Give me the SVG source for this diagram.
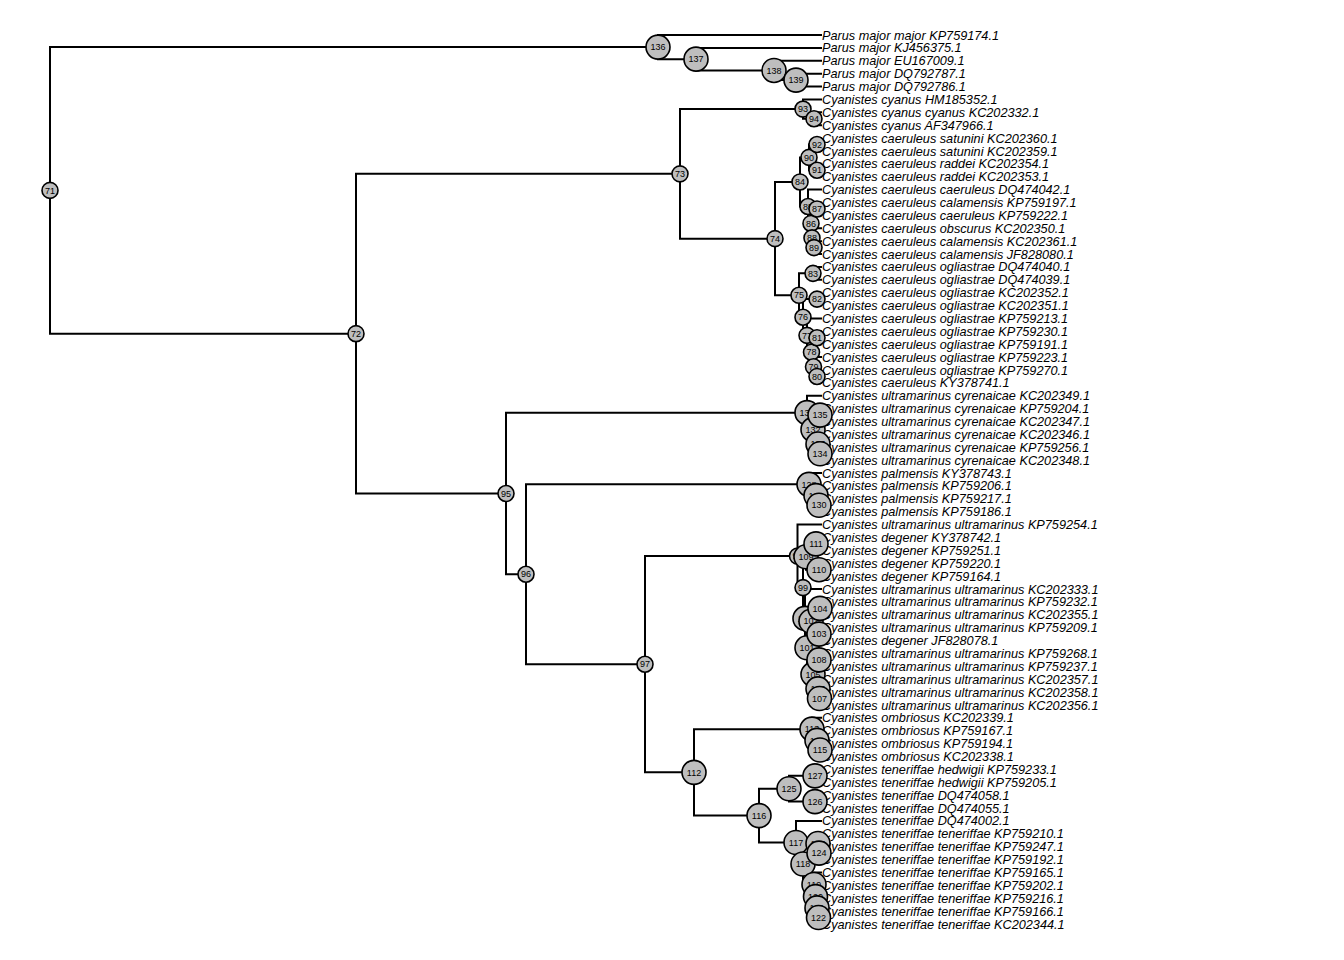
<svg xmlns="http://www.w3.org/2000/svg" width="1344" height="960" viewBox="0 0 1344 960">
<style>
.e{fill:none;stroke:#000;stroke-width:2;stroke-linecap:square;stroke-linejoin:miter}
.t{font-family:"Liberation Sans",Arial,sans-serif;font-size:12.7px;font-style:italic;fill:#000}
.c{fill:#bebebe;stroke:#000;stroke-width:1.6}
.l{font-family:"Liberation Sans",Arial,sans-serif;font-size:9px;fill:#000;text-anchor:middle}
</style>
<rect width="1344" height="960" fill="#fff"/>
<g id="connectors">
<path class="e" d="M658,47.08 H50 V333.67 H356"/>
<path class="e" d="M821,35 H658 V59.16 H696"/>
<path class="e" d="M821,47.88 H696 V70.43 H774"/>
<path class="e" d="M821,60.77 H774 V80.10 H796"/>
<path class="e" d="M821,73.65 H796 V86.54 H821"/>
<path class="e" d="M680,173.86 H356 V493.48 H506"/>
<path class="e" d="M803,109.08 H680 V238.63 H775"/>
<path class="e" d="M821,99.42 H803 V118.74 H814"/>
<path class="e" d="M821,112.30 H814 V125.19 H821"/>
<path class="e" d="M800,181.96 H775 V295.30 H799"/>
<path class="e" d="M809,157.40 H800 V206.52 H808"/>
<path class="e" d="M817,144.51 H809 V170.28 H817"/>
<path class="e" d="M821,138.07 H817 V150.96 H821"/>
<path class="e" d="M821,163.84 H817 V176.72 H821"/>
<path class="e" d="M821,189.61 H808 V223.43 H811"/>
<path class="e" d="M817,208.93 H811 V237.92 H812"/>
<path class="e" d="M821,202.49 H817 V215.38 H821"/>
<path class="e" d="M821,228.26 H812 V247.58 H814"/>
<path class="e" d="M821,241.14 H814 V254.03 H821"/>
<path class="e" d="M813,273.35 H799 V317.24 H803"/>
<path class="e" d="M821,266.91 H813 V279.80 H821"/>
<path class="e" d="M817,299.12 H803 V335.36 H807"/>
<path class="e" d="M821,292.68 H817 V305.57 H821"/>
<path class="e" d="M821,318.45 H807 V352.27 H811.5"/>
<path class="e" d="M817,337.78 H811.5 V366.77 H813.5"/>
<path class="e" d="M821,331.33 H817 V344.22 H821"/>
<path class="e" d="M821,357.10 H813.5 V376.43 H817"/>
<path class="e" d="M821,369.99 H817 V382.87 H821"/>
<path class="e" d="M807,412.67 H506 V574.28 H526"/>
<path class="e" d="M821,395.75 H807 V429.58 H813"/>
<path class="e" d="M820,415.08 H813 V444.07 H818"/>
<path class="e" d="M821,408.64 H820 V421.52 H821"/>
<path class="e" d="M821,434.41 H818 V453.73 H820"/>
<path class="e" d="M821,447.29 H820 V460.17 H821"/>
<path class="e" d="M809,484.33 H526 V664.23 H645"/>
<path class="e" d="M821,473.06 H809 V495.61 H816"/>
<path class="e" d="M821,485.94 H816 V505.27 H819"/>
<path class="e" d="M821,498.83 H819 V511.71 H821"/>
<path class="e" d="M797.5,556.10 H645 V772.36 H694"/>
<path class="e" d="M821,524.59 H797.5 V587.60 H803"/>
<path class="e" d="M806,556.80 H803 V618.40 H805"/>
<path class="e" d="M816,543.92 H806 V569.69 H819"/>
<path class="e" d="M821,537.48 H816 V550.36 H821"/>
<path class="e" d="M821,563.25 H819 V576.13 H821"/>
<path class="e" d="M821,589.01 H805 V647.80 H807"/>
<path class="e" d="M811,621.23 H807 V674.37 H813"/>
<path class="e" d="M820,608.34 H811 V634.11 H819"/>
<path class="e" d="M821,601.90 H820 V614.78 H821"/>
<path class="e" d="M821,627.67 H819 V640.55 H821"/>
<path class="e" d="M819,659.88 H813 V688.87 H818"/>
<path class="e" d="M821,653.43 H819 V666.32 H821"/>
<path class="e" d="M821,679.20 H818 V698.53 H819.5"/>
<path class="e" d="M821,692.09 H819.5 V704.97 H821"/>
<path class="e" d="M812,729.13 H694 V815.59 H759"/>
<path class="e" d="M821,717.86 H812 V740.40 H817"/>
<path class="e" d="M821,730.74 H817 V750.07 H820"/>
<path class="e" d="M821,743.62 H820 V756.51 H821"/>
<path class="e" d="M789,788.72 H759 V842.47 H796"/>
<path class="e" d="M815,775.83 H789 V801.60 H815"/>
<path class="e" d="M821,769.39 H815 V782.28 H821"/>
<path class="e" d="M821,795.16 H815 V808.04 H821"/>
<path class="e" d="M821,820.93 H796 V864.01 H803"/>
<path class="e" d="M818,843.47 H803 V884.54 H814"/>
<path class="e" d="M821,833.81 H818 V853.14 H819"/>
<path class="e" d="M821,846.70 H819 V859.58 H821"/>
<path class="e" d="M821,872.46 H814 V896.62 H815.5"/>
<path class="e" d="M821,885.35 H815.5 V907.90 H817"/>
<path class="e" d="M821,898.23 H817 V917.56 H818.5"/>
<path class="e" d="M821,911.12 H818.5 V924.00 H821"/>
</g>
<g id="tips" class="t">
<text id="tip1" x="822" y="39.5">Parus major major KP759174.1</text>
<text id="tip2" x="822" y="52.4">Parus major KJ456375.1</text>
<text id="tip3" x="822" y="65.3">Parus major EU167009.1</text>
<text id="tip4" x="822" y="78.2">Parus major DQ792787.1</text>
<text id="tip5" x="822" y="91.0">Parus major DQ792786.1</text>
<text id="tip6" x="822" y="103.9">Cyanistes cyanus HM185352.1</text>
<text id="tip7" x="822" y="116.8">Cyanistes cyanus cyanus KC202332.1</text>
<text id="tip8" x="822" y="129.7">Cyanistes cyanus AF347966.1</text>
<text id="tip9" x="822" y="142.6">Cyanistes caeruleus satunini KC202360.1</text>
<text id="tip10" x="822" y="155.5">Cyanistes caeruleus satunini KC202359.1</text>
<text id="tip11" x="822" y="168.3">Cyanistes caeruleus raddei KC202354.1</text>
<text id="tip12" x="822" y="181.2">Cyanistes caeruleus raddei KC202353.1</text>
<text id="tip13" x="822" y="194.1">Cyanistes caeruleus caeruleus DQ474042.1</text>
<text id="tip14" x="822" y="207.0">Cyanistes caeruleus calamensis KP759197.1</text>
<text id="tip15" x="822" y="219.9">Cyanistes caeruleus caeruleus KP759222.1</text>
<text id="tip16" x="822" y="232.8">Cyanistes caeruleus obscurus KC202350.1</text>
<text id="tip17" x="822" y="245.6">Cyanistes caeruleus calamensis KC202361.1</text>
<text id="tip18" x="822" y="258.5">Cyanistes caeruleus calamensis JF828080.1</text>
<text id="tip19" x="822" y="271.4">Cyanistes caeruleus ogliastrae DQ474040.1</text>
<text id="tip20" x="822" y="284.3">Cyanistes caeruleus ogliastrae DQ474039.1</text>
<text id="tip21" x="822" y="297.2">Cyanistes caeruleus ogliastrae KC202352.1</text>
<text id="tip22" x="822" y="310.1">Cyanistes caeruleus ogliastrae KC202351.1</text>
<text id="tip23" x="822" y="322.9">Cyanistes caeruleus ogliastrae KP759213.1</text>
<text id="tip24" x="822" y="335.8">Cyanistes caeruleus ogliastrae KP759230.1</text>
<text id="tip25" x="822" y="348.7">Cyanistes caeruleus ogliastrae KP759191.1</text>
<text id="tip26" x="822" y="361.6">Cyanistes caeruleus ogliastrae KP759223.1</text>
<text id="tip27" x="822" y="374.5">Cyanistes caeruleus ogliastrae KP759270.1</text>
<text id="tip28" x="822" y="387.4">Cyanistes caeruleus KY378741.1</text>
<text id="tip29" x="822" y="400.2">Cyanistes ultramarinus cyrenaicae KC202349.1</text>
<text id="tip30" x="822" y="413.1">Cyanistes ultramarinus cyrenaicae KP759204.1</text>
<text id="tip31" x="822" y="426.0">Cyanistes ultramarinus cyrenaicae KC202347.1</text>
<text id="tip32" x="822" y="438.9">Cyanistes ultramarinus cyrenaicae KC202346.1</text>
<text id="tip33" x="822" y="451.8">Cyanistes ultramarinus cyrenaicae KP759256.1</text>
<text id="tip34" x="822" y="464.7">Cyanistes ultramarinus cyrenaicae KC202348.1</text>
<text id="tip35" x="822" y="477.6">Cyanistes palmensis KY378743.1</text>
<text id="tip36" x="822" y="490.4">Cyanistes palmensis KP759206.1</text>
<text id="tip37" x="822" y="503.3">Cyanistes palmensis KP759217.1</text>
<text id="tip38" x="822" y="516.2">Cyanistes palmensis KP759186.1</text>
<text id="tip39" x="822" y="529.1">Cyanistes ultramarinus ultramarinus KP759254.1</text>
<text id="tip40" x="822" y="542.0">Cyanistes degener KY378742.1</text>
<text id="tip41" x="822" y="554.9">Cyanistes degener KP759251.1</text>
<text id="tip42" x="822" y="567.7">Cyanistes degener KP759220.1</text>
<text id="tip43" x="822" y="580.6">Cyanistes degener KP759164.1</text>
<text id="tip44" x="822" y="593.5">Cyanistes ultramarinus ultramarinus KC202333.1</text>
<text id="tip45" x="822" y="606.4">Cyanistes ultramarinus ultramarinus KP759232.1</text>
<text id="tip46" x="822" y="619.3">Cyanistes ultramarinus ultramarinus KC202355.1</text>
<text id="tip47" x="822" y="632.2">Cyanistes ultramarinus ultramarinus KP759209.1</text>
<text id="tip48" x="822" y="645.0">Cyanistes degener JF828078.1</text>
<text id="tip49" x="822" y="657.9">Cyanistes ultramarinus ultramarinus KP759268.1</text>
<text id="tip50" x="822" y="670.8">Cyanistes ultramarinus ultramarinus KP759237.1</text>
<text id="tip51" x="822" y="683.7">Cyanistes ultramarinus ultramarinus KC202357.1</text>
<text id="tip52" x="822" y="696.6">Cyanistes ultramarinus ultramarinus KC202358.1</text>
<text id="tip53" x="822" y="709.5">Cyanistes ultramarinus ultramarinus KC202356.1</text>
<text id="tip54" x="822" y="722.4">Cyanistes ombriosus KC202339.1</text>
<text id="tip55" x="822" y="735.2">Cyanistes ombriosus KP759167.1</text>
<text id="tip56" x="822" y="748.1">Cyanistes ombriosus KP759194.1</text>
<text id="tip57" x="822" y="761.0">Cyanistes ombriosus KC202338.1</text>
<text id="tip58" x="822" y="773.9">Cyanistes teneriffae hedwigii KP759233.1</text>
<text id="tip59" x="822" y="786.8">Cyanistes teneriffae hedwigii KP759205.1</text>
<text id="tip60" x="822" y="799.7">Cyanistes teneriffae DQ474058.1</text>
<text id="tip61" x="822" y="812.5">Cyanistes teneriffae DQ474055.1</text>
<text id="tip62" x="822" y="825.4">Cyanistes teneriffae DQ474002.1</text>
<text id="tip63" x="822" y="838.3">Cyanistes teneriffae teneriffae KP759210.1</text>
<text id="tip64" x="822" y="851.2">Cyanistes teneriffae teneriffae KP759247.1</text>
<text id="tip65" x="822" y="864.1">Cyanistes teneriffae teneriffae KP759192.1</text>
<text id="tip66" x="822" y="877.0">Cyanistes teneriffae teneriffae KP759165.1</text>
<text id="tip67" x="822" y="889.8">Cyanistes teneriffae teneriffae KP759202.1</text>
<text id="tip68" x="822" y="902.7">Cyanistes teneriffae teneriffae KP759216.1</text>
<text id="tip69" x="822" y="915.6">Cyanistes teneriffae teneriffae KP759166.1</text>
<text id="tip70" x="822" y="928.5">Cyanistes teneriffae teneriffae KC202344.1</text>
</g>
<g id="nodes">
<g id="n71"><circle class="c" cx="50" cy="190.38" r="8"/><text class="l" x="50" y="193.5">71</text></g>
<g id="n72"><circle class="c" cx="356" cy="333.67" r="8"/><text class="l" x="356" y="336.8">72</text></g>
<g id="n73"><circle class="c" cx="680" cy="173.86" r="8"/><text class="l" x="680" y="177.0">73</text></g>
<g id="n74"><circle class="c" cx="775" cy="238.63" r="8"/><text class="l" x="775" y="241.8">74</text></g>
<g id="n75"><circle class="c" cx="799" cy="295.30" r="8"/><text class="l" x="799" y="298.4">75</text></g>
<g id="n76"><circle class="c" cx="803" cy="317.24" r="8"/><text class="l" x="803" y="320.4">76</text></g>
<g id="n77"><circle class="c" cx="807" cy="335.36" r="8"/><text class="l" x="807" y="338.5">77</text></g>
<g id="n78"><circle class="c" cx="811.5" cy="352.27" r="8"/><text class="l" x="811.5" y="355.4">78</text></g>
<g id="n79"><circle class="c" cx="813.5" cy="366.77" r="8"/><text class="l" x="813.5" y="369.9">79</text></g>
<g id="n80"><circle class="c" cx="817" cy="376.43" r="8"/><text class="l" x="817" y="379.6">80</text></g>
<g id="n81"><circle class="c" cx="817" cy="337.78" r="8"/><text class="l" x="817" y="340.9">81</text></g>
<g id="n82"><circle class="c" cx="817" cy="299.12" r="8"/><text class="l" x="817" y="302.3">82</text></g>
<g id="n83"><circle class="c" cx="813" cy="273.35" r="8"/><text class="l" x="813" y="276.5">83</text></g>
<g id="n84"><circle class="c" cx="800" cy="181.96" r="8"/><text class="l" x="800" y="185.1">84</text></g>
<g id="n85"><circle class="c" cx="808" cy="206.52" r="8"/><text class="l" x="808" y="209.7">85</text></g>
<g id="n86"><circle class="c" cx="811" cy="223.43" r="8"/><text class="l" x="811" y="226.6">86</text></g>
<g id="n87"><circle class="c" cx="817" cy="208.93" r="8"/><text class="l" x="817" y="212.1">87</text></g>
<g id="n88"><circle class="c" cx="812" cy="237.92" r="8"/><text class="l" x="812" y="241.1">88</text></g>
<g id="n89"><circle class="c" cx="814" cy="247.58" r="8"/><text class="l" x="814" y="250.7">89</text></g>
<g id="n90"><circle class="c" cx="809" cy="157.40" r="8"/><text class="l" x="809" y="160.5">90</text></g>
<g id="n91"><circle class="c" cx="817" cy="170.28" r="8"/><text class="l" x="817" y="173.4">91</text></g>
<g id="n92"><circle class="c" cx="817" cy="144.51" r="8"/><text class="l" x="817" y="147.7">92</text></g>
<g id="n93"><circle class="c" cx="803" cy="109.08" r="8"/><text class="l" x="803" y="112.2">93</text></g>
<g id="n94"><circle class="c" cx="814" cy="118.74" r="8"/><text class="l" x="814" y="121.9">94</text></g>
<g id="n95"><circle class="c" cx="506" cy="493.48" r="8"/><text class="l" x="506" y="496.6">95</text></g>
<g id="n96"><circle class="c" cx="526" cy="574.28" r="8"/><text class="l" x="526" y="577.4">96</text></g>
<g id="n97"><circle class="c" cx="645" cy="664.23" r="8"/><text class="l" x="645" y="667.4">97</text></g>
<g id="n98"><circle class="c" cx="797.5" cy="556.10" r="8"/><text class="l" x="797.5" y="559.2">98</text></g>
<g id="n99"><circle class="c" cx="803" cy="587.60" r="8"/><text class="l" x="803" y="590.7">99</text></g>
<g id="n100"><circle class="c" cx="805" cy="618.40" r="12"/><text class="l" x="805" y="621.5">100</text></g>
<g id="n101"><circle class="c" cx="807" cy="647.80" r="12"/><text class="l" x="807" y="650.9">101</text></g>
<g id="n102"><circle class="c" cx="811" cy="621.23" r="12"/><text class="l" x="811" y="624.4">102</text></g>
<g id="n103"><circle class="c" cx="819" cy="634.11" r="12"/><text class="l" x="819" y="637.2">103</text></g>
<g id="n104"><circle class="c" cx="820" cy="608.34" r="12"/><text class="l" x="820" y="611.5">104</text></g>
<g id="n105"><circle class="c" cx="813" cy="674.37" r="12"/><text class="l" x="813" y="677.5">105</text></g>
<g id="n106"><circle class="c" cx="818" cy="688.87" r="12"/><text class="l" x="818" y="692.0">106</text></g>
<g id="n107"><circle class="c" cx="819.5" cy="698.53" r="12"/><text class="l" x="819.5" y="701.7">107</text></g>
<g id="n108"><circle class="c" cx="819" cy="659.88" r="12"/><text class="l" x="819" y="663.0">108</text></g>
<g id="n109"><circle class="c" cx="806" cy="556.80" r="12"/><text class="l" x="806" y="559.9">109</text></g>
<g id="n110"><circle class="c" cx="819" cy="569.69" r="12"/><text class="l" x="819" y="572.8">110</text></g>
<g id="n111"><circle class="c" cx="816" cy="543.92" r="12"/><text class="l" x="816" y="547.1">111</text></g>
<g id="n112"><circle class="c" cx="694" cy="772.36" r="12"/><text class="l" x="694" y="775.5">112</text></g>
<g id="n113"><circle class="c" cx="812" cy="729.13" r="12"/><text class="l" x="812" y="732.3">113</text></g>
<g id="n114"><circle class="c" cx="817" cy="740.40" r="12"/><text class="l" x="817" y="743.5">114</text></g>
<g id="n115"><circle class="c" cx="820" cy="750.07" r="12"/><text class="l" x="820" y="753.2">115</text></g>
<g id="n116"><circle class="c" cx="759" cy="815.59" r="12"/><text class="l" x="759" y="818.7">116</text></g>
<g id="n117"><circle class="c" cx="796" cy="842.47" r="12"/><text class="l" x="796" y="845.6">117</text></g>
<g id="n118"><circle class="c" cx="803" cy="864.01" r="12"/><text class="l" x="803" y="867.2">118</text></g>
<g id="n119"><circle class="c" cx="814" cy="884.54" r="12"/><text class="l" x="814" y="887.7">119</text></g>
<g id="n120"><circle class="c" cx="815.5" cy="896.62" r="12"/><text class="l" x="815.5" y="899.8">120</text></g>
<g id="n121"><circle class="c" cx="817" cy="907.90" r="12"/><text class="l" x="817" y="911.0">121</text></g>
<g id="n122"><circle class="c" cx="818.5" cy="917.56" r="12"/><text class="l" x="818.5" y="920.7">122</text></g>
<g id="n123"><circle class="c" cx="818" cy="843.47" r="12"/><text class="l" x="818" y="846.6">123</text></g>
<g id="n124"><circle class="c" cx="819" cy="853.14" r="12"/><text class="l" x="819" y="856.3">124</text></g>
<g id="n125"><circle class="c" cx="789" cy="788.72" r="12"/><text class="l" x="789" y="791.9">125</text></g>
<g id="n126"><circle class="c" cx="815" cy="801.60" r="12"/><text class="l" x="815" y="804.7">126</text></g>
<g id="n127"><circle class="c" cx="815" cy="775.83" r="12"/><text class="l" x="815" y="779.0">127</text></g>
<g id="n128"><circle class="c" cx="809" cy="484.33" r="12"/><text class="l" x="809" y="487.5">128</text></g>
<g id="n129"><circle class="c" cx="816" cy="495.61" r="12"/><text class="l" x="816" y="498.7">129</text></g>
<g id="n130"><circle class="c" cx="819" cy="505.27" r="12"/><text class="l" x="819" y="508.4">130</text></g>
<g id="n131"><circle class="c" cx="807" cy="412.67" r="12"/><text class="l" x="807" y="415.8">131</text></g>
<g id="n132"><circle class="c" cx="813" cy="429.58" r="12"/><text class="l" x="813" y="432.7">132</text></g>
<g id="n133"><circle class="c" cx="818" cy="444.07" r="12"/><text class="l" x="818" y="447.2">133</text></g>
<g id="n134"><circle class="c" cx="820" cy="453.73" r="12"/><text class="l" x="820" y="456.9">134</text></g>
<g id="n135"><circle class="c" cx="820" cy="415.08" r="12"/><text class="l" x="820" y="418.2">135</text></g>
<g id="n136"><circle class="c" cx="658" cy="47.08" r="12"/><text class="l" x="658" y="50.2">136</text></g>
<g id="n137"><circle class="c" cx="696" cy="59.16" r="12"/><text class="l" x="696" y="62.3">137</text></g>
<g id="n138"><circle class="c" cx="774" cy="70.43" r="12"/><text class="l" x="774" y="73.6">138</text></g>
<g id="n139"><circle class="c" cx="796" cy="80.10" r="12"/><text class="l" x="796" y="83.2">139</text></g>
</g>
</svg>
